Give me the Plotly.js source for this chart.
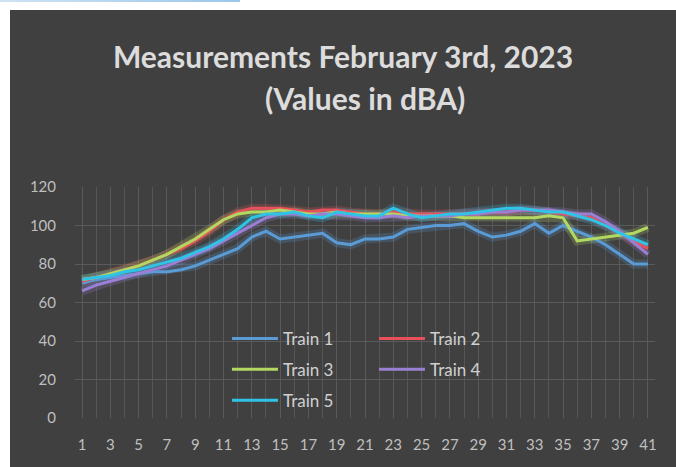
<!DOCTYPE html>
<html>
<head>
<meta charset="utf-8">
<script src="https://cdn.plot.ly/plotly-3.0.1.min.js"></script>
<style>
  html, body { margin: 0; padding: 0; background: #ffffff; width: 676px; height: 467px; overflow: hidden; }
  #topbar { position: absolute; left: 0; top: 0; width: 240px; height: 2px; background: linear-gradient(90deg, #cfe3f3, #9cc7ea); }
  #chart { position: absolute; left: 10px; top: 10px; width: 666px; height: 457px; }
</style>
</head>
<body>
<div id="topbar"></div>
<div id="chart"></div>
<script>
// Measurement points 1..41
const points = Array.from({length: 41}, (_, i) => i + 1);

const train1 = [70, 72, 73, 74, 75, 76, 76, 77, 79, 82, 85, 88, 94, 97, 93, 94, 95, 96, 91, 90,
                93, 93, 94, 98, 99, 100, 100, 101, 97, 94, 95, 97, 101, 96, 100, 97, 94, 90, 85, 80, 80];
const train2 = [71, 73, 75, 77, 79, 82, 85, 88, 92, 97, 103, 107, 109, 109, 109, 108, 107, 108, 108, 107,
                106, 106, 107, 106, 106, 106, 106, 106, 106, 107, 107, 108, 108, 107, 106, 105, 104, 100, 96, 92, 88];
const train3 = [72, 73, 75, 77, 79, 82, 85, 89, 93, 98, 103, 106, 107, 107, 108, 107, 106, 106, 107, 106,
                106, 106, 106, 105, 105, 105, 105, 104, 104, 104, 104, 104, 104, 105, 104, 92, 93, 94, 95, 96, 99];
const train4 = [66, 69, 71, 73, 75, 77, 79, 82, 85, 88, 92, 96, 100, 104, 106, 106, 105, 106, 106, 105,
                104, 104, 105, 104, 105, 105, 105, 106, 106, 107, 107, 108, 108, 108, 107, 106, 106, 102, 97, 91, 85];
const train5 = [72, 73, 74, 76, 77, 79, 81, 83, 86, 89, 93, 98, 104, 106, 106, 107, 105, 104, 107, 106,
                105, 105, 109, 106, 104, 105, 106, 106, 107, 108, 109, 109, 108, 107, 107, 105, 103, 100, 96, 93, 90];

const seriesNames = ['Train 1', 'Train 2', 'Train 3', 'Train 4', 'Train 5'];
const seriesData = [train1, train2, train3, train4, train5];
const seriesColors = ['#5b9bd5', '#e8505b', '#b3d862', '#9b7fd4', '#2fc4e6'];
const legendIds = ['legend', 'legend', 'legend2', 'legend2', 'legend3'];

const traces = [];
// soft glow underlay
seriesData.forEach((ys, i) => {
  traces.push({
    x: points, y: ys, type: 'scatter', mode: 'lines',
    line: {color: seriesColors[i], width: 9, shape: 'linear'},
    opacity: 0.22, showlegend: false, hoverinfo: 'skip'
  });
});
seriesData.forEach((ys, i) => {
  traces.push({
    x: points, y: ys, type: 'scatter', mode: 'lines', name: seriesNames[i],
    line: {color: seriesColors[i], width: 3},
    legend: legendIds[i]
  });
});

const fontFam = 'Lato, "Open Sans", sans-serif';
const legendCommon = {
  orientation: 'h', xanchor: 'left', yanchor: 'middle',
  bgcolor: 'rgba(0,0,0,0)', font: {family: fontFam, size: 17, color: '#d0d0d0'},
  entrywidth: 86, entrywidthmode: 'pixels', itemwidth: 46, tracegroupgap: 0
};

const layout = {
  width: 666, height: 457,
  paper_bgcolor: '#404040', plot_bgcolor: '#404040',
  margin: {l: 65, r: 21, t: 177, b: 49},
  font: {family: fontFam, color: '#bfbfbf'},
  title: {
    text: 'Measurements February 3rd, 2023',
    font: {family: fontFam, size: 30, weight: 'bold', color: '#dcdcdc'},
    x: 0.5, xanchor: 'center', y: 1 - 47/457, yanchor: 'middle', yref: 'container'
  },
  annotations: [{
    text: '(Values in dBA)', xref: 'paper', yref: 'paper', x: 0.5,
    y: 1 + (177 - 88) / 231, yanchor: 'middle', showarrow: false,
    font: {family: fontFam, size: 30, weight: 'bold', color: '#dcdcdc'}
  }],
  xaxis: {
    range: [0.5, 41.5], tickmode: 'linear', tick0: 1, dtick: 2,
    showgrid: true, gridcolor: '#5a5a5a', gridwidth: 1,
    minor: {dtick: 1, tick0: 1, showgrid: true, gridcolor: '#555555', gridwidth: 1},
    zeroline: false, showline: false, ticks: '', ticklabelstandoff: 16,
    tickfont: {family: fontFam, size: 15, color: '#bfbfbf'}
  },
  yaxis: {
    range: [0, 120], tickmode: 'linear', tick0: 0, dtick: 20,
    showgrid: true, gridcolor: '#5a5a5a', gridwidth: 1,
    zeroline: false, showline: false, ticks: '', ticklabelstandoff: 18,
    tickfont: {family: fontFam, size: 15, color: '#bfbfbf'}
  },
  legend: Object.assign({x: 0.262, y: 0.342}, legendCommon),
  legend2: Object.assign({x: 0.262, y: 0.209}, legendCommon),
  legend3: Object.assign({x: 0.262, y: 0.075}, legendCommon),
  showlegend: true
};

Plotly.newPlot('chart', traces, layout, {displayModeBar: false, staticPlot: true});
</script>
</body>
</html>
